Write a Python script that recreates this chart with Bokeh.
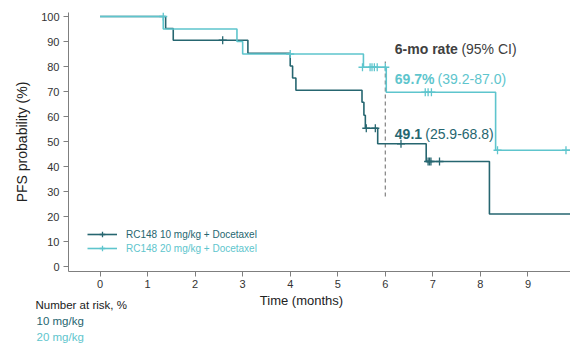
from bokeh.plotting import figure
from bokeh.layouts import column, row
from bokeh.models import Range1d, FixedTicker, Label, Legend, LegendItem
from bokeh.core.properties import value
from bokeh.embed import file_html
from bokeh.resources import INLINE

# ---- data ----
t10 = [0, 1.38, 1.54, 3.11, 4.0, 4.05, 4.12, 5.51, 5.55, 5.58, 5.84, 6.86, 8.19, 9.9]
s10 = [100, 95.2, 90.5, 85.3, 80.2, 75.4, 70.5, 65.7, 60.5, 55.3, 49.1, 42.0, 21.0, 21.0]
c10_t = [2.58, 5.6, 5.79, 6.33, 6.9, 6.93, 6.96, 7.14]
c10_s = [90.5, 55.3, 55.3, 49.1, 42.0, 42.0, 42.0, 42.0]

t20 = [0, 1.33, 2.88, 3.0, 5.54, 6.02, 8.32, 9.9]
s20 = [100, 95.0, 90.0, 85.0, 79.7, 69.7, 46.5, 46.5]
c20_t = [1.33, 4.0, 5.52, 5.68, 5.72, 5.77, 5.83, 6.0, 6.84, 6.9, 6.97, 8.36, 9.8]
c20_s = [100, 85, 79.7, 79.7, 79.7, 79.7, 79.7, 79.7, 69.7, 69.7, 69.7, 46.5, 46.5]

x_ticks = [0, 1, 2, 3, 4, 5, 6, 7, 8, 9]
y_ticks = [0, 10, 20, 30, 40, 50, 60, 70, 80, 90, 100]
series_names = ["RC148 10 mg/kg + Docetaxel", "RC148 20 mg/kg + Docetaxel"]
rate_title = ("6-mo rate", "(95% CI)")
rate_20 = ("69.7%", "(39.2-87.0)")
rate_10 = ("49.1", "(25.9-68.8)")
landmark = 6
landmark_span = (28, 82)
x_title = "Time (months)"
y_title = "PFS probability (%)"
risk_labels = ["Number at risk, %", "10 mg/kg", "20 mg/kg"]

DARK = "#266670"
LIGHT = "#5ec5cd"
GRAY = "#404040"
FONT = "Liberation Sans"

p = figure(width=570, height=292, output_backend="svg", toolbar_location=None,
           x_range=Range1d(-0.663, 9.895), y_range=Range1d(-2.0, 101.6),
           min_border_left=68, min_border_right=0, min_border_top=12, min_border_bottom=21)
p.outline_line_color = None
p.xgrid.visible = False
p.ygrid.visible = False

for ax in (p.xaxis[0], p.yaxis[0]):
    ax.axis_line_color = "#7f7f7f"
    ax.major_tick_line_color = "#7f7f7f"
    ax.minor_tick_line_color = None
    ax.major_tick_in = 0
    ax.major_tick_out = 5
    ax.major_label_text_font = FONT
    ax.major_label_text_font_size = "11px"
    ax.major_label_text_color = "#333333"
    ax.axis_label_text_font = FONT
    ax.axis_label_text_font_size = "14px"
    ax.axis_label_text_font_style = "normal"
    ax.axis_label_text_color = "#222222"

p.xaxis.ticker = FixedTicker(ticks=x_ticks)
p.yaxis.ticker = FixedTicker(ticks=y_ticks)
p.xaxis.major_label_standoff = 3
p.yaxis.major_label_standoff = 4
p.yaxis.axis_label = y_title
p.yaxis.axis_label_standoff = 8

p.segment(x0=[landmark], y0=[landmark_span[0]], x1=[landmark], y1=[landmark_span[1]],
          line_color="#808080", line_dash="4 3", line_width=1.2)

l10 = p.step(t10, s10, mode="after", line_color=DARK, line_width=1.6)
m10 = p.scatter(c10_t, c10_s, marker="cross", size=8, line_color=DARK, line_width=1.3)
l20 = p.step(t20, s20, mode="after", line_color=LIGHT, line_width=1.6)
m20 = p.scatter(c20_t, c20_s, marker="cross", size=8, line_color=LIGHT, line_width=1.3)

def make_legend(label, rends, color, loc):
    lg = Legend(items=[LegendItem(label=label, renderers=rends)], location=loc)
    lg.background_fill_alpha = 0
    lg.border_line_color = None
    lg.padding = 0
    lg.margin = 0
    lg.spacing = 0
    lg.glyph_width = 30
    lg.glyph_height = 14
    lg.label_height = 14
    lg.label_standoff = 9
    lg.label_text_font = FONT
    lg.label_text_font_size = "10px"
    lg.label_text_color = color
    p.add_layout(lg)

make_legend(series_names[0], [l10, m10], DARK, (19, 30))
make_legend(series_names[1], [l20, m20], LIGHT, (19, 16))

def add_label(x, y, text, color, size, bold=False):
    p.add_layout(Label(x=x, y=y, text=text, text_color=color, text_font=FONT,
                       text_font_size=size, text_font_style="bold" if bold else "normal",
                       text_baseline="middle", text_align="left"))

add_label(6.2, 87.2, rate_title[0], GRAY, "14px", True)
add_label(7.6, 87.2, rate_title[1], GRAY, "14px")
add_label(6.2, 75.2, rate_20[0], LIGHT, "14px", True)
add_label(7.1, 75.2, rate_20[1], LIGHT, "14px")
add_label(6.2, 53.1, rate_10[0], DARK, "14px", True)
add_label(6.84, 53.1, rate_10[1], DARK, "14px")

# ---- bottom strip: x-axis title and number-at-risk labels ----
q = figure(width=570, height=51, output_backend="svg", toolbar_location=None,
           x_range=Range1d(0, 570), y_range=Range1d(51, 0),
           x_axis_location=None, y_axis_location=None,
           min_border=0, min_border_left=0, min_border_right=0,
           min_border_top=0, min_border_bottom=0)
q.grid.visible = False
q.outline_line_color = None

q.text(x=[301], y=[8], text=[x_title], text_font=value(FONT), text_font_size="13px",
       text_color="#222222", text_align="center", text_baseline="middle")
q.text(x=[35, 36, 36], y=[12, 28.7, 44], text=risk_labels,
       text_color=["#1a1a1a", DARK, LIGHT], text_font=value(FONT), text_font_size="11.5px",
       text_align="left", text_baseline="middle")

layout = column(p, row(q), spacing=0)
open("out.html", "w").write(file_html(layout, INLINE))
